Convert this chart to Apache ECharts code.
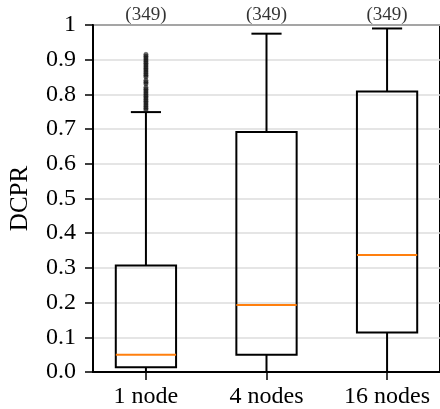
<!DOCTYPE html>
<html>
<head>
<meta charset="utf-8">
<script src="https://cdn.jsdelivr.net/npm/echarts@6/dist/echarts.min.js"></script>
<style>html,body{margin:0;padding:0;background:#fff}#c{width:440px;height:409px}</style>
</head>
<body>
<div id="c"></div>
<script>
const categories = ['1 node', '4 nodes', '16 nodes'];
const counts = [349, 349, 349];
const mins = [0.0, 0.0, 0.0];
const q1s = [0.014, 0.050, 0.114];
const medians = [0.050, 0.193, 0.337];
const q3s = [0.307, 0.692, 0.808];
const maxs = [0.749, 0.975, 0.990];
const outliers1 = [0.755, 0.76, 0.765, 0.77, 0.775, 0.78, 0.785, 0.79, 0.795, 0.80, 0.805, 0.81, 0.815, 0.82, 0.83, 0.835, 0.84, 0.85, 0.855, 0.86, 0.865, 0.87, 0.875, 0.88, 0.885, 0.89, 0.895, 0.90, 0.905, 0.91, 0.915];
const yTickLabels = ['0.0','0.1','0.2','0.3','0.4','0.5','0.6','0.7','0.8','0.9','1'];

const FONT = 'Liberation Serif';
const boxData = categories.map((c, i) => [i + 1, mins[i], q1s[i], medians[i], q3s[i], maxs[i]]);
const fliers = outliers1.map(v => [1, v]);
const countData = counts.map((n, i) => [i + 1, 1, n]);

const chart = echarts.init(document.getElementById('c'), null, {renderer: 'canvas'});
chart.setOption({
  animation: false,
  grid: {left: 89, right: -4, top: 25, bottom: 37, show: true, borderColor: '#000', borderWidth: 2, backgroundColor: 'transparent'},
  xAxis: {
    type: 'value', min: 0.561, max: 3.439,
    splitLine: {show: false},
    axisLine: {show: true, lineStyle: {color: '#000', width: 2}},
    axisTick: {show: true, customValues: [1, 2, 3], length: 8, lineStyle: {color: '#000', width: 1.5}},
    axisLabel: {show: true, customValues: [1, 2, 3], formatter: v => categories[Math.round(v) - 1], color: '#000', fontFamily: FONT, fontSize: 24, margin: 13}
  },
  yAxis: {
    type: 'value', min: 0, max: 1, interval: 0.1,
    name: 'DCPR', nameLocation: 'middle', nameGap: 60, nameRotate: 90,
    nameTextStyle: {color: '#000', fontFamily: FONT, fontSize: 25},
    axisLine: {show: true, lineStyle: {color: '#000', width: 2}},
    axisTick: {show: true, length: 8, lineStyle: {color: '#000', width: 1.5}},
    axisLabel: {formatter: v => yTickLabels[Math.round(v * 10)], color: '#000', fontFamily: FONT, fontSize: 24, margin: 17},
    splitLine: {show: true, lineStyle: {color: '#dddddd', width: 1.5}}
  },
  series: [
    {
      type: 'custom',
      data: boxData,
      encode: {x: 0, y: [1, 2, 3, 4, 5]},
      clip: false,
      z: 3,
      renderItem: function (params, api) {
        const x = api.value(0);
        const pMin = api.coord([x, api.value(1)]);
        const pQ1 = api.coord([x, api.value(2)]);
        const pMed = api.coord([x, api.value(3)]);
        const pQ3 = api.coord([x, api.value(4)]);
        const pMax = api.coord([x, api.value(5)]);
        const w = api.size([0.5, 0])[0];
        const cw = w / 2;
        const cx = pQ1[0];
        const ls = {stroke: '#000', lineWidth: 2, fill: null};
        return {
          type: 'group',
          children: [
            {type: 'line', shape: {x1: cx, y1: pMin[1], x2: cx, y2: pQ1[1]}, style: ls},
            {type: 'line', shape: {x1: cx, y1: pQ3[1], x2: cx, y2: pMax[1]}, style: ls},
            {type: 'line', shape: {x1: cx - cw / 2, y1: pMin[1], x2: cx + cw / 2, y2: pMin[1]}, style: ls},
            {type: 'line', shape: {x1: cx - cw / 2, y1: pMax[1], x2: cx + cw / 2, y2: pMax[1]}, style: ls},
            {type: 'rect', shape: {x: cx - w / 2, y: pQ3[1], width: w, height: pQ1[1] - pQ3[1]}, style: {stroke: '#000', lineWidth: 2, fill: 'none'}},
            {type: 'line', shape: {x1: cx - w / 2, y1: pMed[1], x2: cx + w / 2, y2: pMed[1]}, style: {stroke: '#ff7f0e', lineWidth: 2}}
          ]
        };
      }
    },
    {
      type: 'scatter',
      data: fliers,
      symbol: 'circle',
      symbolSize: 4.5,
      itemStyle: {color: 'rgba(25,25,25,0.8)', borderColor: 'rgba(0,0,0,0.7)', borderWidth: 0.5},
      z: 4
    },
    {
      type: 'scatter',
      data: countData,
      symbolSize: 0,
      clip: false,
      label: {show: true, position: 'top', distance: 0, formatter: p => '(' + p.value[2] + ')', color: '#000', fontFamily: FONT, fontSize: 19},
      z: 5
    }
  ]
});
</script>
</body>
</html>
